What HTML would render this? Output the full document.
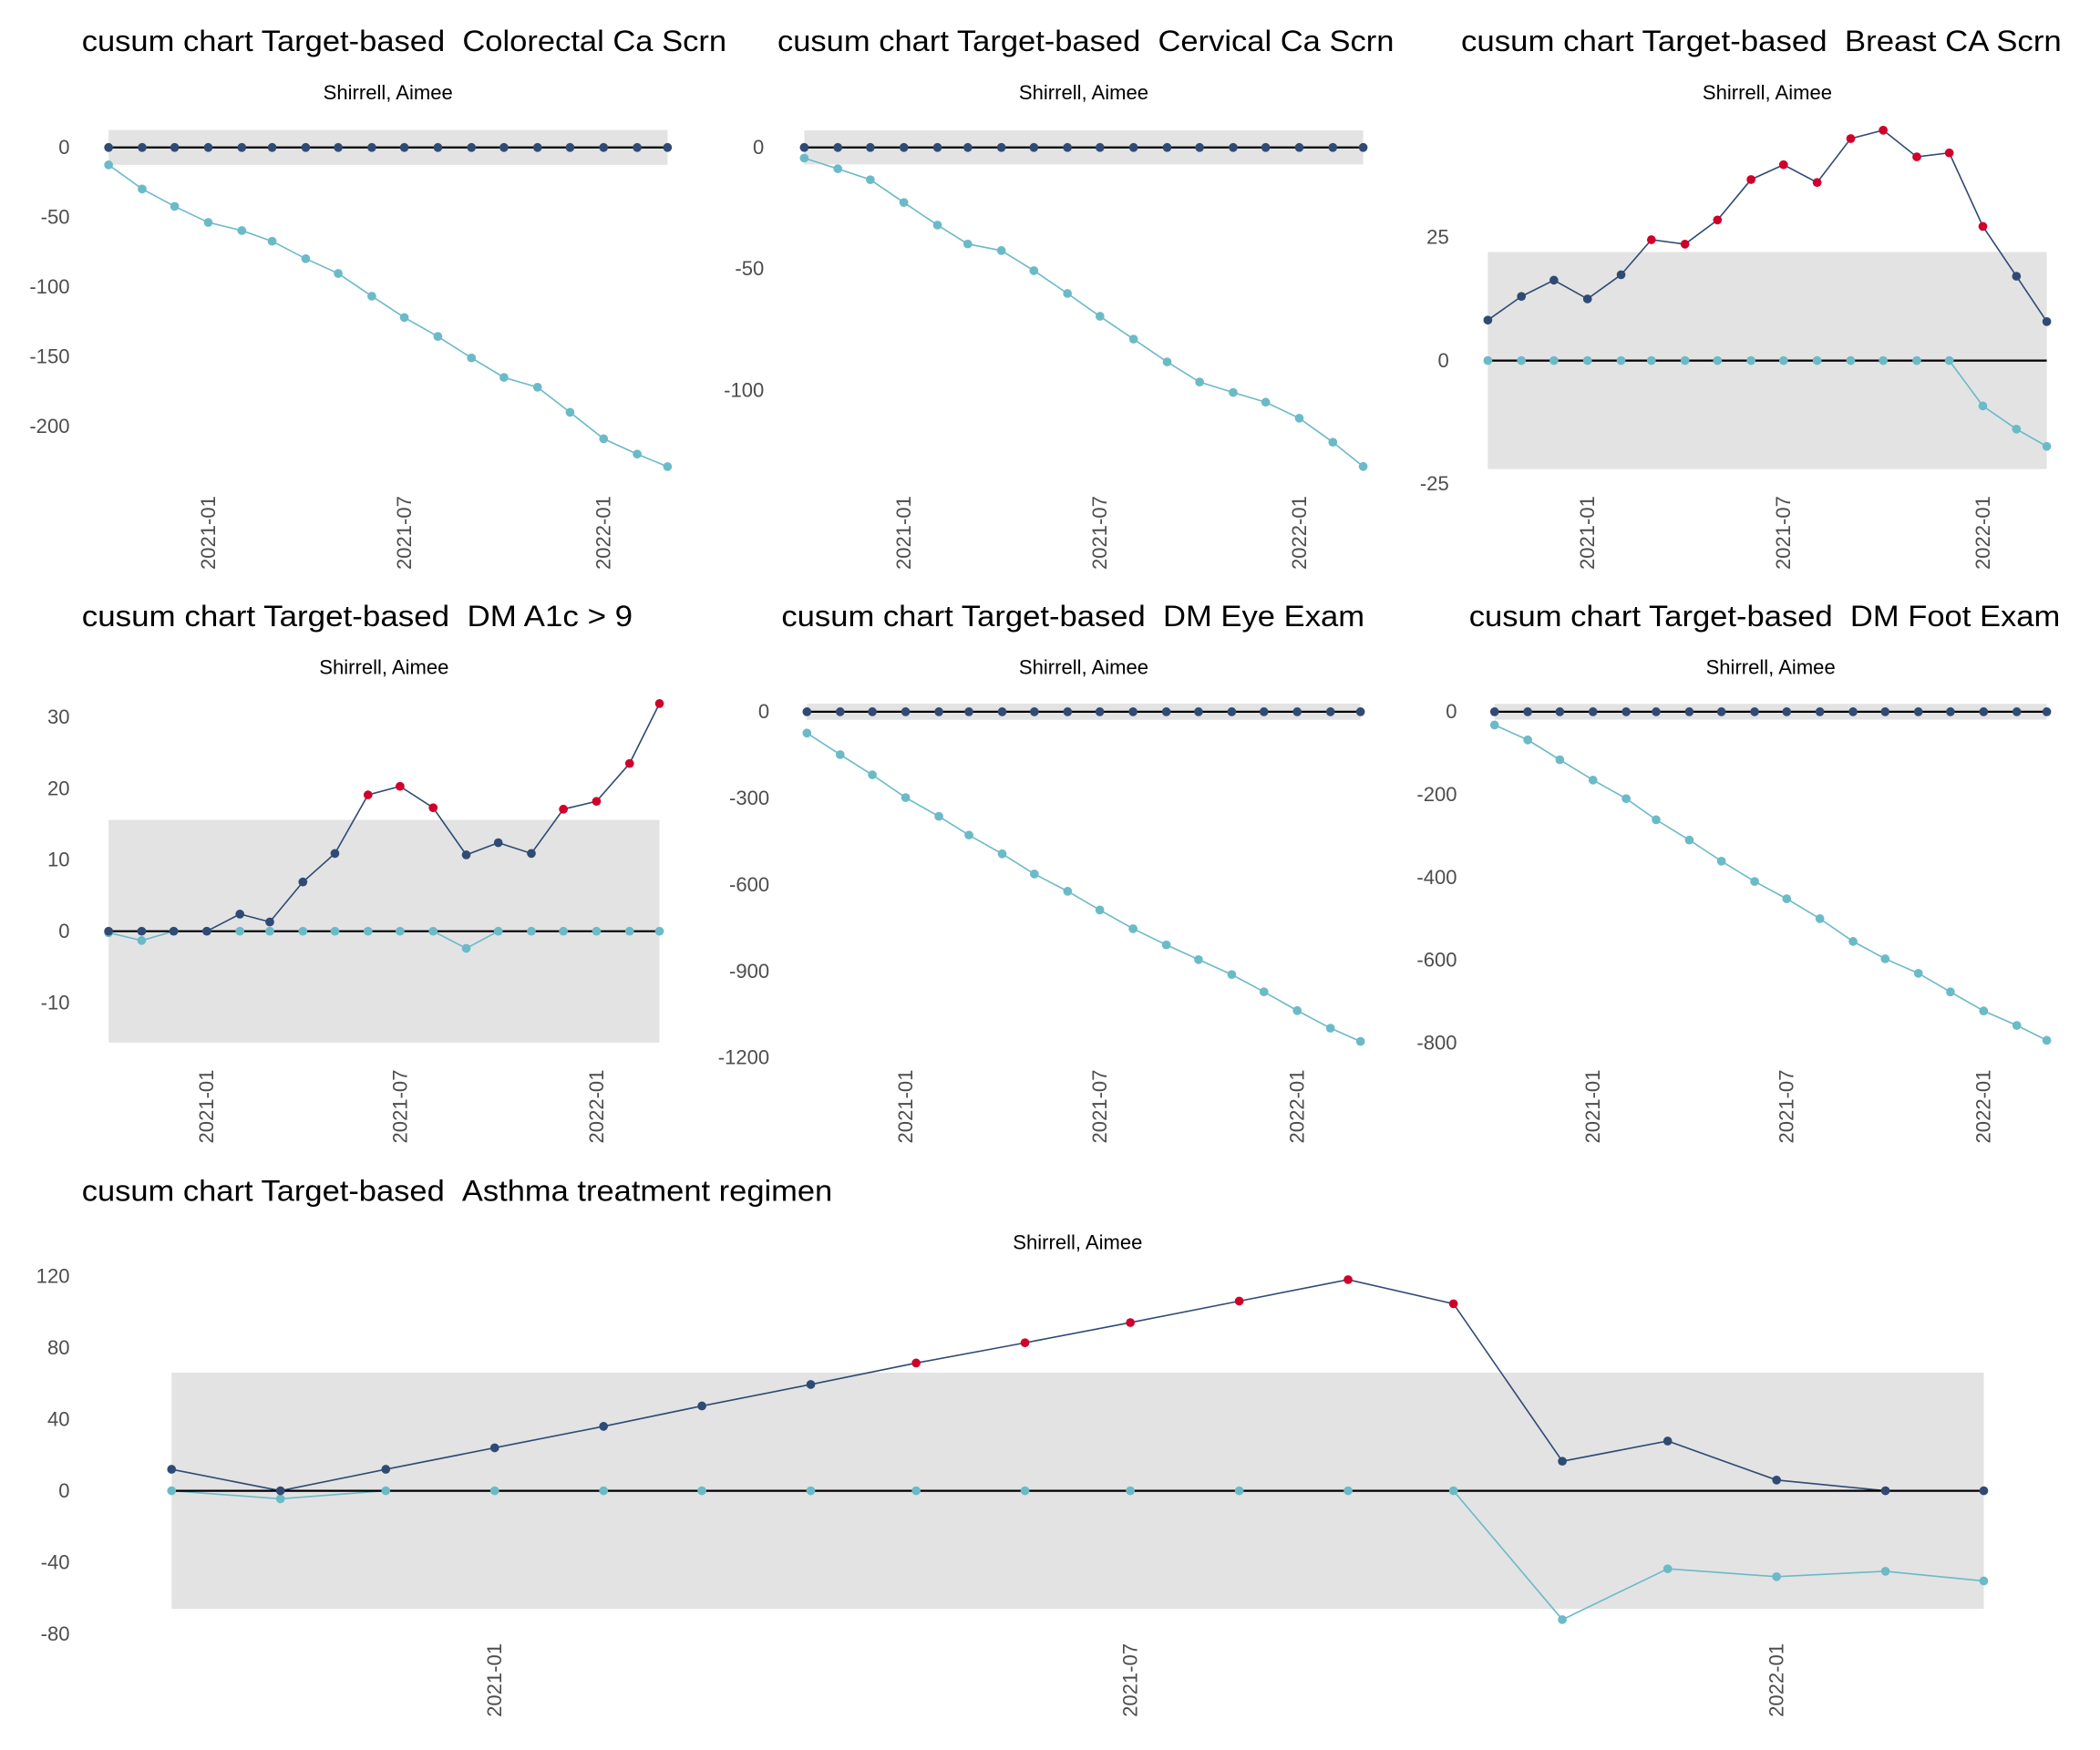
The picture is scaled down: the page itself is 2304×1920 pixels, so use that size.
<!DOCTYPE html>
<html><head><meta charset="utf-8"><style>
html,body{margin:0;padding:0;background:#fff}
svg{display:block}
text{font-family:"Liberation Sans",sans-serif}
</style></head><body>
<svg id="chart" xmlns="http://www.w3.org/2000/svg" width="2304" height="1920" viewBox="0 0 1566.7 1305.6"></svg>
<script>
// ---- data ----
const months = ["2020-10","2020-11","2020-12","2021-01","2021-02","2021-03","2021-04","2021-05","2021-06","2021-07","2021-08","2021-09","2021-10","2021-11","2021-12","2022-01","2022-02","2022-03"];
const tickDates = ["2021-01","2021-07","2022-01"];
const titles = ["Colorectal Ca Scrn","Cervical Ca Scrn","Breast CA Scrn","DM A1c > 9","DM Eye Exam","DM Foot Exam","Asthma treatment regimen"];
const subtitle = "Shirrell, Aimee";
const colorectalUpper = [0,0,0,0,0,0,0,0,0,0,0,0,0,0,0,0,0,0];
const colorectalLower = [-12.5,-29.8,-42.3,-53.8,-59.6,-67.3,-79.8,-90.4,-106.7,-122,-135.6,-151,-165,-172,-190,-209,-220,-229];
const cervicalUpper = [0,0,0,0,0,0,0,0,0,0,0,0,0,0,0,0,0,0];
const cervicalLower = [-4.4,-8.8,-13.3,-22.7,-32,-39.8,-42.5,-50.8,-60.2,-69.6,-79,-88.4,-96.7,-101,-105,-111.6,-121.5,-131.5];
const breastUpper = [8.2,13,16.3,12.5,17.4,24.5,23.6,28.5,36.7,39.7,36.1,45,46.7,41.3,42.1,27.2,17.1,7.9];
const breastLower = [0,0,0,0,0,0,0,0,0,0,0,0,0,0,0,-9.2,-13.9,-17.4];
const a1cUpper = [0,0,0,0,2.4,1.3,6.9,10.9,19.1,20.3,17.3,10.7,12.4,10.9,17.1,18.2,23.5,31.9];
const a1cLower = [-0.2,-1.3,0,0,0,0,0,0,0,0,0,-2.4,0,0,0,0,0,0];
const eyeUpper = [0,0,0,0,0,0,0,0,0,0,0,0,0,0,0,0,0,0];
const eyeLower = [-74,-149,-219,-298,-363,-428,-493,-563,-623,-688,-753,-809,-860,-912,-972,-1037,-1098,-1144];
const footUpper = [0,0,0,0,0,0,0,0,0,0,0,0,0,0,0,0,0,0];
const footLower = [-32,-68,-116,-165,-210,-261,-310,-361,-410,-452,-500,-555,-597,-632,-677,-723,-758,-794];
const asthmaUpper = [12,0,12,24,36,47.4,59.4,71.4,82.7,94,106,118,104.5,16.5,27.8,6,0,0];
const asthmaLower = [0,-4.5,0,0,0,0,0,0,0,0,0,0,0,-72,-43.6,-48,-45,-50.4];
const controlLimits = [12.5,7,22,15.6,28,19,66];
const yTicks1 = [0,-50,-100,-150,-200];
const yTicks2 = [0,-50,-100];
const yTicks3 = [25,0,-25];
const yTicks4 = [30,20,10,0,-10];
const yTicks5 = [0,-300,-600,-900,-1200];
const yTicks6 = [0,-200,-400,-600,-800];
const yTicks7 = [120,80,40,0,-40,-80];

// ---- layout (pixels, display units) ----
const layout = [
 {tx:61,tw:481,ty:38,x0:81,x1:498,lab:52,sy:74,tb:430,yA:[0,110],yB:[-200,318]},
 {tx:580,tw:460,ty:38,x0:600,x1:1017,lab:570,sy:74,tb:430,yA:[0,110],yB:[-100,291]},
 {tx:1090,tw:448,ty:38,x0:1110,x1:1527,lab:1081,sy:74,tb:430,yA:[25,177],yB:[-25,361]},
 {tx:61,tw:411,ty:467,x0:81,x1:492,lab:52,sy:503,tb:858,yA:[30,535],yB:[-10,748]},
 {tx:583,tw:435,ty:467,x0:602,x1:1015,lab:574,sy:503,tb:858,yA:[0,531],yB:[-1200,789]},
 {tx:1096,tw:441,ty:467,x0:1115,x1:1527,lab:1087,sy:503,tb:858,yA:[0,531],yB:[-800,778]},
 {tx:61,tw:560,ty:896,x0:128,x1:1480,lab:52,sy:932,tb:1286,yA:[120,952],yB:[-80,1219]}
];
const uppers=[colorectalUpper,cervicalUpper,breastUpper,a1cUpper,eyeUpper,footUpper,asthmaUpper];
const lowers=[colorectalLower,cervicalLower,breastLower,a1cLower,eyeLower,footLower,asthmaLower];
const yTicksAll=[yTicks1,yTicks2,yTicks3,yTicks4,yTicks5,yTicks6,yTicks7];
const slugs=["colorectal","cervical","breast","a1c","eye-exam","foot-exam","asthma"];

const NS="http://www.w3.org/2000/svg";
const svg=document.getElementById('chart');
function mk(tag,attrs,parent){const e=document.createElementNS(NS,tag);for(const k in attrs)e.setAttribute(k,attrs[k]);(parent||svg).appendChild(e);return e;}
function dnum(s){const p=s.split('-');return Date.UTC(+p[0],+p[1]-1,1);}
const DARK="#2f4b74",CYAN="#6bbac8",RED="#d0002a";

layout.forEach((L,i)=>{
  const g=mk('g',{});
  
  
  const t0=dnum(months[0]),t1=dnum(months[months.length-1]);
  const xs=m=>L.x0+(dnum(m)-t0)/(t1-t0)*(L.x1-L.x0);
  const k=(L.yB[1]-L.yA[1])/(L.yB[0]-L.yA[0]);
  const ys=v=>L.yA[1]+(v-L.yA[0])*k;
  const lim=controlLimits[i];
  const tt=mk('text',{x:L.tx,y:L.ty,'font-size':22,fill:'#000',textLength:L.tw,lengthAdjust:'spacingAndGlyphs'},g);
  tt.textContent="cusum chart Target-based\u00a0\u00a0"+titles[i];
  
  
  const st=mk('text',{x:(L.x0+L.x1)/2,y:L.sy,'font-size':15,'text-anchor':'middle',fill:'#000'},g);
  st.textContent=subtitle;
  
  
  const bd=mk('rect',{x:L.x0,y:ys(lim),width:L.x1-L.x0,height:ys(-lim)-ys(lim),fill:'#e3e3e3'},g);
  
  
  yTicksAll[i].forEach(v=>{
    const t=mk('text',{x:L.lab,y:ys(v)+5,'font-size':15,'text-anchor':'end',fill:'#4d4d4d'},g);
    t.textContent=String(v);
    
    
  });
  tickDates.forEach(d=>{
    const x=xs(d);
    const t=mk('text',{x:0,y:0,'font-size':15,'text-anchor':'end',fill:'#4d4d4d',transform:`translate(${x+5},${L.tb-60}) rotate(-90)`},g);
    t.textContent=d;
    
    
  });
  const series=[[lowers[i],CYAN,'lower-cusum'],[uppers[i],DARK,'upper-cusum']];
  series.forEach(([arr,col,nm])=>{
    const pts=arr.map((v,j)=>xs(months[j]).toFixed(2)+','+ys(v).toFixed(2)).join(' ');
    const pl=mk('polyline',{points:pts,fill:'none',stroke:col,'stroke-width':1.1},g);
    
    
  });
  const zl=mk('line',{x1:L.x0,x2:L.x1,y1:ys(0),y2:ys(0),stroke:'#000','stroke-width':1.5},g);
  
  
  series.forEach(([arr,col,nm])=>{
    arr.forEach((v,j)=>{
      const out=Math.abs(v)>lim;
      const c=mk('circle',{cx:xs(months[j]),cy:ys(v),r:3.3,fill:(out&&nm==='upper-cusum')?RED:col},g);
      
      
    });
  });
});
</script>
</body></html>
